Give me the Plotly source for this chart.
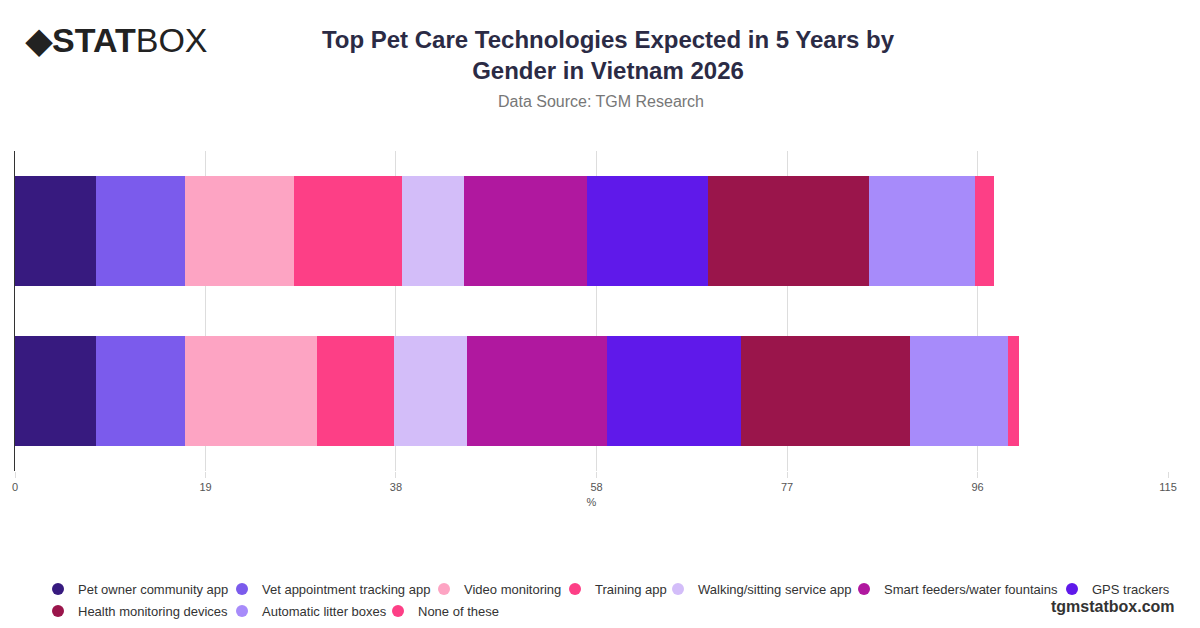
import plotly.graph_objects as go

genders = ["Female", "Male"]
technologies = [
    "Pet owner community app", "Vet appointment tracking app", "Video monitoring",
    "Training app", "Walking/sitting service app", "Smart feeders/water fountains",
    "GPS trackers", "Health monitoring devices", "Automatic litter boxes", "None of these",
]
# values per technology: [Female (bottom), Male (top)]
values = {
    "Pet owner community app": [8.1, 8.1],
    "Vet appointment tracking app": [8.9, 8.9],
    "Video monitoring": [13.1, 10.8],
    "Training app": [7.7, 10.8],
    "Walking/sitting service app": [7.3, 6.2],
    "Smart feeders/water fountains": [13.9, 12.3],
    "GPS trackers": [13.4, 12.0],
    "Health monitoring devices": [16.9, 16.1],
    "Automatic litter boxes": [9.7, 10.5],
    "None of these": [1.1, 1.9],
}
colors = ["#371a7f", "#7b5bec", "#fda4c3", "#fd3f86", "#d3bdf9",
          "#b0189f", "#5f19ea", "#9a154b", "#a78bfa", "#fd3f86"]
ticks = [0, 19, 38, 58, 77, 96, 115]

# legend symbol centre positions (pixels) in the reference
legend_pos = [(51, 589), (235, 589), (437, 589), (568, 589), (671, 589), (857, 589),
              (1065, 589), (51, 611), (235, 611), (391, 611)]

FONT = "Liberation Sans, Arial, sans-serif"
L, R, T, B = 7, 40, 143, 165
fig = go.Figure()
for name, color in zip(technologies, colors):
    fig.add_trace(go.Bar(
        y=genders, x=values[name], name=name, orientation="h",
        marker=dict(color=color, line=dict(width=0)), showlegend=False,
    ))

legends = {}
for i, (name, color) in enumerate(zip(technologies, colors)):
    key = "legend" if i == 0 else f"legend{i + 1}"
    fig.add_trace(go.Scatter(
        x=[None], y=[None], mode="markers", name=name,
        marker=dict(symbol="circle", size=12, color=color), legend=key,
    ))
    cx, cy = legend_pos[i]
    legends[key] = dict(
        orientation="h", xref="container", yref="container",
        x=(cx - 21) / 1200, y=1 - (cy - 8) / 628, xanchor="left", yanchor="middle",
        font=dict(size=13, color="#333", family=FONT), itemwidth=30,
        bgcolor="rgba(0,0,0,0)",
    )

pw, ph = 1200 - L - R, 628 - T - B


def px(x, y):
    # small offsets compensate for where the page draws the figure
    return (x - 7 - L) / pw, 1 - (y - 8 - T) / ph


fig.update_layout(
    barmode="stack",
    width=1200, height=628,
    font=dict(family=FONT, color="#333"),
    paper_bgcolor="white", plot_bgcolor="white",
    bargap=0.31,
    margin=dict(l=L, r=R, t=T, b=B, autoexpand=False),
    title=dict(
        text="<b>Top Pet Care Technologies Expected in 5 Years by<br>Gender in Vietnam 2026</b>",
        x=0.5, y=0.937, xanchor="center", yanchor="middle", font=dict(size=24, color="#2b2b45"),
    ),
    xaxis=dict(
        range=[0, 115], tickvals=ticks, showgrid=True, gridcolor="#dddddd",
        zeroline=False, title=dict(text="%", font=dict(size=11, color="#555"), standoff=6),
        tickfont=dict(size=11, color="#555"), ticks="outside", ticklen=6, tickcolor="#ddd",
    ),
    yaxis=dict(showticklabels=False, showline=True, linecolor="#333", linewidth=1,
               showgrid=False),
    **legends,
)

for text, (x, y), anc, font in [
    ("Data Source: TGM Research", (600, 101), "center", dict(size=16, color="#777")),
    ("<b>◆STAT</b>BOX", (22, 40), "left", dict(size=34, color="#222")),
    ("<b>tgmstatbox.com</b>", (1176, 606), "right", dict(size=16, color="#333")),
]:
    ax, ay = px(x, y)
    fig.add_annotation(text=text, x=ax, y=ay, xref="paper", yref="paper",
                       xanchor=anc, yanchor="middle", showarrow=False, font=font)

fig.write_html("out.html")
